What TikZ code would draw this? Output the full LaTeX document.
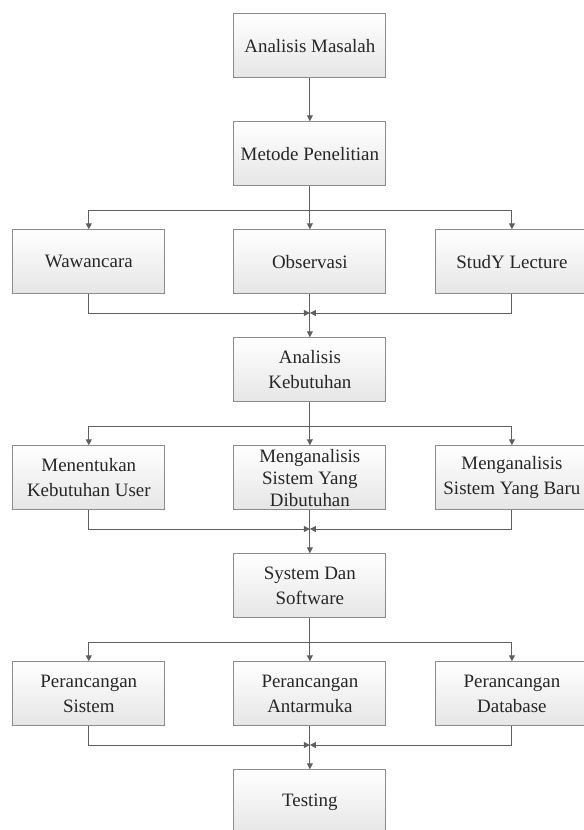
\documentclass[tikz,border=0pt]{standalone}
\usepackage{fontspec}
\setmainfont{Liberation Serif}
\usepackage{xcolor}
\usepackage{tikz}
\usetikzlibrary{arrows.meta, calc}
\definecolor{boxline}{RGB}{140, 140, 140}
\definecolor{flowline}{RGB}{95, 95, 95}

\begin{document}
\begin{tikzpicture}[
    box/.style={draw=boxline, line width=0.8pt, top color=white, bottom color=black!10,
                minimum width=114pt, minimum height=48pt, inner sep=2pt, align=center,
                font=\fontsize{14.2pt}{18.75pt}\selectfont, text=black!85},
    tight/.style={inner sep=0pt, font=\fontsize{14.2pt}{16.5pt}\selectfont},
    flow/.style={draw=flowline, line width=0.75pt, -{Triangle[length=4.5pt, width=4.5pt]}}
]
    \useasboundingbox (0,0) rectangle (438pt,-622.5pt);
    \matrix (chart) [anchor=north west, inner sep=0pt,
                     row sep={81pt,between origins}, column sep=51pt] at (9pt,-9.75pt) {
        & \node[box] (masalah) {Analisis Masalah}; &[-14.25pt] \\
        & \node[box] (metode) {Metode Penelitian}; &[-14.25pt] \\
        \node[box] (wawancara) {Wawancara}; & \node[box] (observasi) {Observasi}; &[-14.25pt]
        \node[box] (study) {StudY Lecture}; \\
        & \node[box] (kebutuhan) {Analisis\\Kebutuhan}; &[-14.25pt] \\
        \node[box] (user) {Menentukan\\Kebutuhan User}; &
        \node[box, tight] (dibutuhkan) {Menganalisis\\Sistem Yang\\Dibutuhan}; &[-14.25pt]
        \node[box] (baru) {Menganalisis\\Sistem Yang Baru}; \\
        & \node[box] (sysdan) {System Dan\\Software}; &[-14.25pt] \\
        \node[box] (psistem) {Perancangan\\Sistem}; & \node[box] (pantar) {Perancangan\\Antarmuka}; &[-14.25pt]
        \node[box] (pdb) {Perancangan\\Database}; \\
        & \node[box] (testing) {Testing}; &[-14.25pt] \\
    };

    % tahap awal
    \draw[flow] (masalah) -- (metode);
    \draw[flow] (metode.south) |- ($(wawancara.north)+(0,14pt)$) -- (wawancara.north);
    \draw[flow] (metode) -- (observasi);
    \draw[flow] (metode.south) |- ($(study.north)+(0,14pt)$) -- (study.north);
    \draw[flow] (wawancara.south) |- ($(observasi.south)+(0,-14pt)$);
    \draw[flow] (study.south) |- ($(observasi.south)+(0,-14pt)$);
    \draw[flow] (observasi) -- (kebutuhan);

    % kebutuhan
    \draw[flow] (kebutuhan.south) |- ($(user.north)+(0,14pt)$) -- (user.north);
    \draw[flow] (kebutuhan) -- (dibutuhkan);
    \draw[flow] (kebutuhan.south) |- ($(baru.north)+(0,14pt)$) -- (baru.north);
    \draw[flow] (user.south) |- ($(dibutuhkan.south)+(0,-14pt)$);
    \draw[flow] (baru.south) |- ($(dibutuhkan.south)+(0,-14pt)$);
    \draw[flow] (dibutuhkan) -- (sysdan);

    % perancangan
    \draw[flow] (sysdan.south) |- ($(psistem.north)+(0,14pt)$) -- (psistem.north);
    \draw[flow] (sysdan) -- (pantar);
    \draw[flow] (sysdan.south) |- ($(pdb.north)+(0,14pt)$) -- (pdb.north);
    \draw[flow] (psistem.south) |- ($(pantar.south)+(0,-14pt)$);
    \draw[flow] (pdb.south) |- ($(pantar.south)+(0,-14pt)$);
    \draw[flow] (pantar) -- (testing);
\end{tikzpicture}
\end{document}
